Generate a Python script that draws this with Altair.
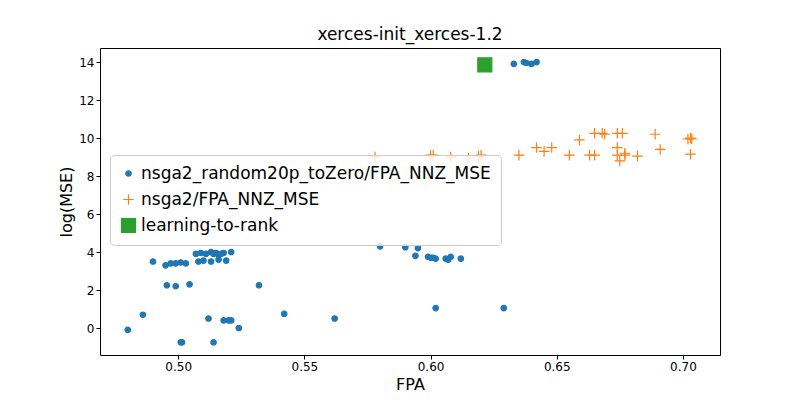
import altair as alt
import pandas as pd

s1 = "nsga2_random20p_toZero/FPA_NNZ_MSE"
s2 = "nsga2/FPA_NNZ_MSE"
s3 = "learning-to-rank"

blue_x = [0.480, 0.486, 0.490, 0.495, 0.497, 0.499, 0.501, 0.503, 0.4955, 0.499, 0.5045, 0.501, 0.5015,
          0.512, 0.514, 0.518, 0.520, 0.521, 0.524, 0.532, 0.542, 0.562, 0.602, 0.629,
          0.507, 0.509, 0.511, 0.513, 0.514, 0.515, 0.516, 0.517, 0.518, 0.521, 0.508, 0.510, 0.513, 0.516, 0.519,
          0.594, 0.599, 0.600, 0.601, 0.602, 0.606, 0.607, 0.608, 0.612, 0.580, 0.590, 0.595,
          0.633, 0.637, 0.638, 0.640, 0.642]
blue_y = [-0.1, 0.7, 3.5, 3.3, 3.4, 3.4, 3.45, 3.4, 2.25, 2.2, 2.3, -0.75, -0.75,
          0.5, -0.75, 0.4, 0.4, 0.4, 0.0, 2.25, 0.75, 0.5, 1.05, 1.05,
          3.9, 3.95, 3.9, 4.0, 3.9, 3.95, 3.85, 3.9, 3.95, 4.0, 3.5, 3.55, 3.5, 3.6, 3.55,
          3.8, 3.75, 3.7, 3.7, 3.65, 3.65, 3.6, 3.75, 3.65, 4.3, 4.25, 4.2,
          13.9, 14.0, 13.95, 13.9, 14.0]
orange_x = [0.578, 0.600, 0.601, 0.608, 0.615, 0.619, 0.620, 0.635, 0.642, 0.645, 0.648, 0.655, 0.659,
            0.663, 0.665, 0.665, 0.668, 0.669, 0.674, 0.676, 0.674, 0.674, 0.675, 0.677, 0.677, 0.682,
            0.689, 0.691, 0.702, 0.703, 0.7035, 0.703]
orange_y = [9.0, 9.1, 9.1, 9.0, 8.95, 9.05, 9.1, 9.1, 9.5, 9.3, 9.5, 9.1, 9.9,
            9.1, 9.1, 10.25, 10.25, 10.2, 10.25, 10.25, 9.5, 9.1, 8.8, 9.2, 9.1, 9.05,
            10.2, 9.4, 9.95, 10.0, 9.95, 9.15]
green_x = [0.6215]
green_y = [13.85]

df = pd.concat([
    pd.DataFrame({"FPA": blue_x, "MSE": blue_y, "series": s1}),
    pd.DataFrame({"FPA": orange_x, "MSE": orange_y, "series": s2}),
    pd.DataFrame({"FPA": green_x, "MSE": green_y, "series": s3}),
])

dom = [s1, s2, s3]
cross = "M-1,0L1,0M0,-1L0,1"
leg = alt.Legend(orient="none", legendX=10, legendY=107, title=None, labelFontSize=17, symbolSize=200,
                 rowPadding=8, padding=10, strokeColor="#cccccc", fillColor="rgba(255,255,255,0.8)",
                 cornerRadius=4, symbolStrokeWidth=1.2, labelLimit=500)
chart = alt.Chart(df).mark_point(filled=False, opacity=1, strokeWidth=1.2).encode(
    x=alt.X("FPA:Q", title="FPA", scale=alt.Scale(domain=[0.469, 0.7147], nice=False, zero=False),
            axis=alt.Axis(values=[0.5, 0.55, 0.6, 0.65, 0.7], format=".2f")),
    y=alt.Y("MSE:Q", title="log(MSE)", scale=alt.Scale(domain=[-1.42, 14.74], nice=False, zero=False),
            axis=alt.Axis(values=[0, 2, 4, 6, 8, 10, 12, 14])),
    color=alt.Color("series:N", legend=leg, scale=alt.Scale(domain=dom, range=["#1f77b4", "#ff7f0e", "#2ca02c"])),
    fill=alt.Fill("series:N", legend=leg, scale=alt.Scale(domain=dom, range=["#1f77b4", "transparent", "#2ca02c"])),
    shape=alt.Shape("series:N", legend=leg, scale=alt.Scale(domain=dom, range=["circle", cross, "square"])),
    size=alt.Size("series:N", legend=None, scale=alt.Scale(domain=dom, range=[30, 196, 484])),
).properties(
    width=620, height=307,
    title=alt.Title("xerces-init_xerces-1.2", fontSize=17, fontWeight="normal"),
    autosize="none",
    padding={"left": 92, "top": 40, "right": 72, "bottom": 37},
).configure(font="DejaVu Sans").configure_view(stroke="black", strokeWidth=1).configure_axis(
    grid=False, domain=False, tickColor="black", labelColor="black", labelFontSize=12,
    titleFontSize=16, titleFontWeight="normal", titleColor="black", tickSize=4,
)

chart.save("out.html", embed_options={"renderer": "svg", "actions": False})
